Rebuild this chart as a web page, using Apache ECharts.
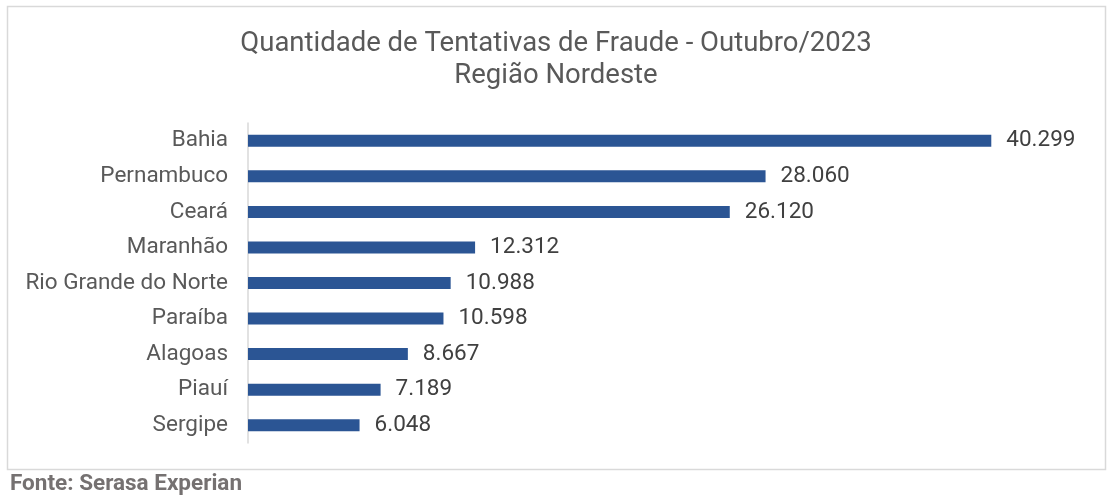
<!DOCTYPE html>
<html>
<head>
<meta charset="utf-8">
<script src="https://cdn.jsdelivr.net/npm/echarts@6/dist/echarts.min.js"></script>
<style>
  html, body { margin: 0; padding: 0; background: #fff; }
  #chart { width: 1112px; height: 497px; }
</style>
</head>
<body>
<div id="chart"></div>
<script>
// dados (ordem de cima para baixo)
const estados = ['Bahia', 'Pernambuco', 'Ceará', 'Maranhão', 'Rio Grande do Norte', 'Paraíba', 'Alagoas', 'Piauí', 'Sergipe']
const tentativas = [40299, 28060, 26120, 12312, 10988, 10598, 8667, 7189, 6048]

const tituloLinha1 = 'Quantidade de Tentativas de Fraude - Outubro/2023'
const tituloLinha2 = 'Região Nordeste'
const fonte = 'Fonte: Serasa Experian'

// formata 40299 -> 40.299
function fmt(v) {
  return String(v).replace(/\B(?=(\d{3})+(?!\d))/g, '.')
}

const chart = echarts.init(document.getElementById('chart'))

chart.setOption({
  backgroundColor: '#fff',
  animation: false,
  textStyle: { fontFamily: 'Roboto' },
  title: {
    text: tituloLinha1 + '\n' + tituloLinha2,
    left: 'center',
    top: 23,
    textStyle: {
      fontFamily: 'Roboto',
      fontSize: 27.5,
      fontWeight: 'normal',
      color: '#595959',
      lineHeight: 32
    }
  },
  graphic: [
    {
      type: 'rect',
      shape: { x: 7.5, y: 6.5, width: 1098, height: 463 },
      style: { fill: 'none', stroke: '#d9d9d9', lineWidth: 1.5 },
      silent: true
    },
    {
      type: 'text',
      left: 10,
      top: 473,
      style: {
        text: fonte,
        font: 'bold 22.5px Roboto',
        fill: '#757171'
      }
    }
  ],
  grid: {
    left: 248,
    top: 123,
    width: 830,
    height: 320,
    containLabel: false
  },
  xAxis: {
    type: 'value',
    min: 0,
    max: 45000,
    show: false
  },
  yAxis: {
    type: 'category',
    data: estados,
    inverse: true,
    axisLine: { show: true, lineStyle: { color: '#d9d9d9', width: 1.5 } },
    axisTick: { show: false },
    axisLabel: {
      fontFamily: 'Roboto',
      fontSize: 22.5,
      color: '#595959',
      margin: 20
    }
  },
  series: [
    {
      type: 'bar',
      data: tentativas,
      barWidth: 12,
      itemStyle: { color: '#2b5594' },
      label: {
        show: true,
        position: 'right',
        distance: 15,
        fontFamily: 'Roboto',
        fontSize: 22.5,
        color: '#404040',
        formatter: p => fmt(p.value)
      }
    }
  ]
})
</script>
</body>
</html>
